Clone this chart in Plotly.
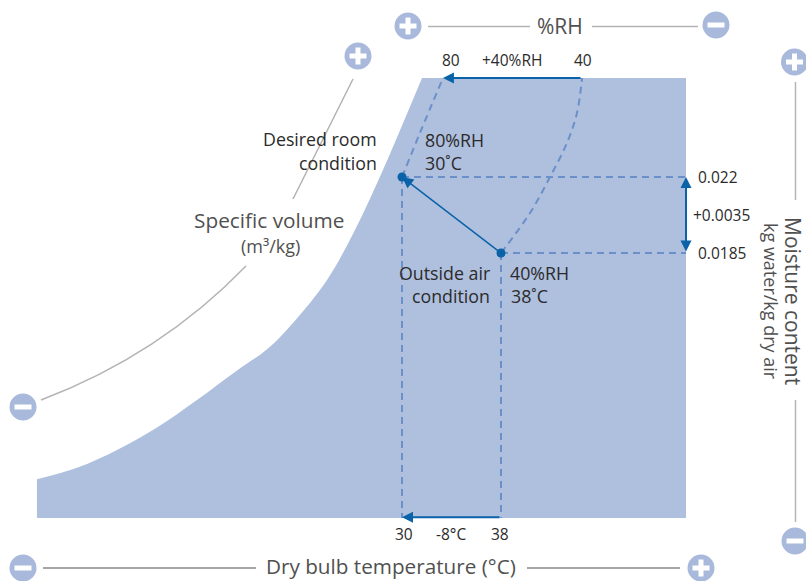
import plotly.graph_objects as go

W, H = 806, 581
FONT = "Open Sans"
FILL = "#afbfde"
ICON = "#a8b9dc"
DASH = "#6b90c9"
BLUE = "#0a62a8"
INK = "#2b2b2b"
SOFT = "#505050"

# saturation edge of the chart, dry bulb (C) / moisture content (kg/kg)
edge_temp = [0.5, 3.74, 6.97, 10.2, 13.43, 16.67, 19.17, 21.19, 23.94, 26.2, 28.46, 29.92, 31.62]
edge_moist = [0.00808, 0.00861, 0.00943, 0.01046, 0.01173, 0.01309, 0.0141, 0.01528, 0.01726, 0.01956, 0.02232, 0.02426, 0.02656]
temp_right = 52.95
moist_bottom = 0.0063

# constant %RH curves
rh40_temp = [38, 40.34, 41.96, 43.33, 44.14, 44.55]
rh40_moist = [0.0185, 0.02034, 0.022, 0.02357, 0.02495, 0.02656]
rh80_temp = [30, 31.45, 33.31]
rh80_moist = [0.022, 0.02403, 0.02656]

# the two air states
state_temp = [38, 30]
state_moist = [0.0185, 0.022]

rh_labels = ["80", "+40%RH", "40"]
moist_labels = ["0.022", "+0.0035", "0.0185"]
temp_labels = ["30", "-8°C", "38"]

# axis scale: picture pixels per unit, anchored on the 30 C / 0.022 point
PX_T = 12.375
PX_M = 21714.0
x_range = [30 - 402 / PX_T, 30 + (W - 402) / PX_T]
y_range = [0.022 - (H - 177) / PX_M, 0.022 + 177 / PX_M]


def px(x):
    return x / W


def py(y):
    return 1 - y / H


fig = go.Figure()

# chart body: straight bottom/right sides, then the smooth edge filled back to them
fig.add_trace(go.Scatter(
    x=[edge_temp[0], temp_right, temp_right], y=[moist_bottom, moist_bottom, edge_moist[-1]],
    mode="lines", line=dict(width=0), hoverinfo="skip",
))
fig.add_trace(go.Scatter(
    x=edge_temp, y=edge_moist, mode="lines", fill="tonexty", fillcolor=FILL,
    line=dict(width=0, shape="spline", smoothing=1), hoverinfo="skip",
))


def dashed(x, y, shape="linear"):
    fig.add_trace(go.Scatter(
        x=x, y=y, mode="lines", hoverinfo="skip",
        line=dict(color=DASH, width=2, dash="7px,5px", shape=shape),
    ))


dashed(rh40_temp, rh40_moist, "spline")
dashed(rh80_temp, rh80_moist, "spline")
dashed([state_temp[1], temp_right], [state_moist[1], state_moist[1]])
dashed([state_temp[0], temp_right], [state_moist[0], state_moist[0]])
dashed([state_temp[1], state_temp[1]], [state_moist[1], moist_bottom])
dashed([state_temp[0], state_temp[0]], [state_moist[0], moist_bottom])

fig.add_trace(go.Scatter(
    x=state_temp, y=state_moist, mode="markers", hoverinfo="skip",
    marker=dict(color=BLUE, size=9),
))


def arrow(x0, y0, x1, y1, width=2, side="end"):
    fig.add_annotation(
        x=x1, y=y1, ax=x0, ay=y0, xref="x", yref="y", axref="x", ayref="y", text="",
        showarrow=True, arrowhead=2, arrowsize=1.1 if width > 1.5 else 1.5, arrowwidth=width,
        arrowcolor=BLUE, arrowside=side, standoff=0, startstandoff=0, startarrowhead=2,
        startarrowsize=1.1,
    )


arrow(rh40_temp[-1], rh40_moist[-1], rh80_temp[-1], rh80_moist[-1])
arrow(state_temp[0], moist_bottom + 0.00003, state_temp[1], moist_bottom + 0.00003)
arrow(state_temp[0], state_moist[0], state_temp[1], state_moist[1], width=1.5)
arrow(temp_right, state_moist[0], temp_right, state_moist[1], side="end+start")


def label(x, y, text, size=16, color=INK, anchor="center", angle=0):
    fig.add_annotation(
        x=px(x), y=py(y), xref="paper", yref="paper", text=text, showarrow=False,
        xanchor=anchor, yanchor="middle", textangle=angle,
        font=dict(family=FONT, size=size, color=color),
    )


for x, t in zip([451, 512, 583], rh_labels):
    label(x, 60, t, 15.5)
for x, y, t in zip([696, 691, 696], [177, 215, 253], moist_labels):
    label(x, y, t, 15.5, anchor="left")
for x, t in zip([404, 451, 500], temp_labels):
    label(x, 534, t, 15.5)

label(379, 139, "Desired room", 17.8, anchor="right")
label(379, 163, "condition", 17.8, anchor="right")
label(423, 140, "80%RH", 17.8, anchor="left")
label(423, 163, "30˚C", 17.8, anchor="left")
label(492, 273, "Outside air", 17.8, anchor="right")
label(492, 296, "condition", 17.8, anchor="right")
label(508, 273, "40%RH", 17.8, anchor="left")
label(509, 296, "38˚C", 17.8, anchor="left")

label(560, 26, "%RH", 21, SOFT)
label(269, 220, "Specific volume", 20.8, SOFT)
label(270, 246, "(m³/kg)", 18, SOFT)
label(391, 566, "Dry bulb temperature (°C)", 20.7, SOFT)
label(793, 301, "Moisture content", 21, SOFT, angle=90)
label(771, 301, "kg water/kg dry air", 18, SOFT, angle=90)

shapes = []


def guide(x0, y0, x1, y1, color="#b4b4b4", width=1.5):
    shapes.append(dict(type="line", xref="paper", yref="paper", x0=px(x0), y0=py(y0), x1=px(x1), y1=py(y1),
                       line=dict(color=color, width=width)))


def icon(cx, cy, plus):
    r = 13.5
    shapes.append(dict(type="circle", xref="paper", yref="paper", x0=px(cx - r), x1=px(cx + r),
                       y0=py(cy - r), y1=py(cy + r), fillcolor=ICON, line=dict(width=0)))
    shapes.append(dict(type="rect", xref="paper", yref="paper", x0=px(cx - 8.5), x1=px(cx + 8.5),
                       y0=py(cy - 2.5), y1=py(cy + 2.5), fillcolor="white", line=dict(width=0)))
    if plus:
        shapes.append(dict(type="rect", xref="paper", yref="paper", x0=px(cx - 2.5), x1=px(cx + 2.5),
                           y0=py(cy - 8.5), y1=py(cy + 8.5), fillcolor="white", line=dict(width=0)))


guide(428, 26.5, 530, 26.5)
guide(592, 26.5, 698, 26.5)
guide(43, 568, 256, 568, "#a6a6a6", 2)
guide(527, 568, 680, 568, "#a6a6a6", 2)
guide(795.5, 82, 795.5, 200)
guide(795.5, 400, 795.5, 522)
guide(353, 79, 293, 199)
shapes.append(dict(
    type="path", xref="paper", yref="paper",
    path=f"M {px(41)} {py(400)} Q {px(160)} {py(355)} {px(246)} {py(266)}",
    line=dict(color="#b4b4b4", width=1.5),
))

icon(408, 26, True)
icon(716, 25, False)
icon(358, 56, True)
icon(23, 407, False)
icon(794.5, 62, True)
icon(795, 541, False)
icon(23, 568, False)
icon(701, 568, True)

fig.update_layout(
    width=W, height=H, margin=dict(l=0, r=0, t=0, b=0),
    paper_bgcolor="white", plot_bgcolor="white", showlegend=False, shapes=shapes,
    xaxis=dict(visible=False, range=x_range, fixedrange=True),
    yaxis=dict(visible=False, range=y_range, fixedrange=True),
)

fig.write_html("out.html", config=dict(displayModeBar=False),
               post_script="document.body.style.margin='0';document.body.style.overflow='hidden';")
